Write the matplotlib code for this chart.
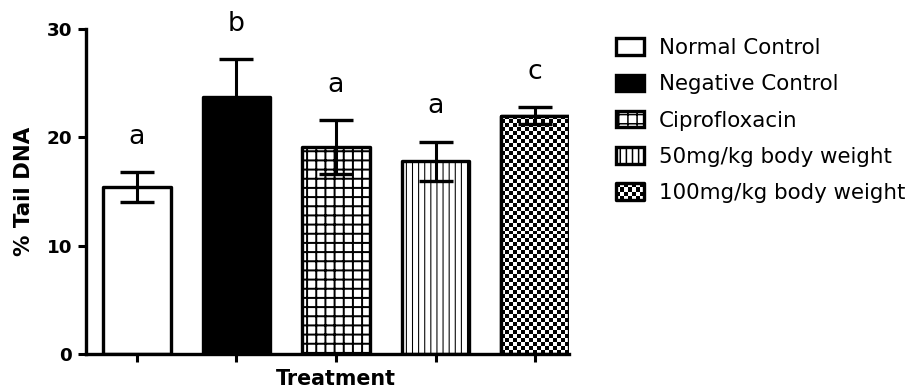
import numpy as np
import matplotlib
matplotlib.use('Agg')
import matplotlib.pyplot as plt
from matplotlib.patches import Rectangle, Patch
from matplotlib.legend_handler import HandlerBase

# Comet assay: % tail DNA per treatment group (mean +/- SEM)
groups = ['Normal Control', 'Negative Control', 'Ciprofloxacin',
          '50mg/kg body weight', '100mg/kg body weight']
means = [15.4, 23.7, 19.1, 17.8, 22.0]
sems = [1.4, 3.5, 2.5, 1.8, 0.8]
letters = ['a', 'b', 'a', 'a', 'c']

DPI = 110
LW = 2.2          # outline width, points
CELL = 4          # checker cell size, pixels

fills = [dict(facecolor='white', hatch=None),
         dict(facecolor='black', hatch=None),
         dict(facecolor='white', hatch='++'),
         dict(facecolor='white', hatch='|||'),
         dict(facecolor='white', hatch=None)]
hatch_lw = [None, None, 1.3, 0.7, None]


class HandlerChecker(HandlerBase):
    """Legend key drawn as a small black/white checkerboard."""

    def create_artists(self, legend, orig_handle, xdescent, ydescent,
                       width, height, fontsize, trans):
        x0, y0 = -xdescent, -ydescent
        cell = CELL * 72 / DPI
        arts = [Rectangle((x0, y0), width, height, facecolor='white',
                          edgecolor='none', transform=trans)]
        ncol = max(1, int(round(width / cell)))
        nrow = max(1, int(round(height / cell)))
        cw, ch = width / ncol, height / nrow
        for r in range(nrow):
            for c in range(ncol):
                if (r + c) % 2:
                    arts.append(Rectangle((x0 + c * cw, y0 + r * ch), cw, ch,
                                          facecolor='black', edgecolor='none',
                                          transform=trans))
        arts.append(Rectangle((x0, y0), width, height, facecolor='none',
                              edgecolor='black', lw=LW, joinstyle='round',
                              transform=trans))
        return arts


plt.rcParams['font.family'] = ['DejaVu Sans']

fig = plt.figure(figsize=(919 / DPI, 392 / DPI), dpi=DPI)
ax = fig.add_axes([86 / 919, 38 / 392, (569 - 86) / 919, (354 - 29) / 392])

x = np.arange(len(groups))
width = 0.68

bars = []
for i in range(len(groups)):
    b = ax.bar(x[i], means[i], width, color=fills[i]['facecolor'],
               hatch=fills[i]['hatch'], edgecolor='black', linewidth=LW,
               zorder=2)[0]
    b.set_joinstyle('round')
    if hatch_lw[i] is not None and hasattr(b, 'set_hatch_linewidth'):
        b.set_hatch_linewidth(hatch_lw[i])
    bars.append(b)

ax.set_xlim(-0.51, 4.34)
ax.set_ylim(0, 30)

# checkerboard fill for the last group, clipped to its bar
fig.canvas.draw()
cb = bars[4]
x0, x1 = x[4] - width / 2, x[4] + width / 2
p0 = ax.transData.transform((x0, 0))
p1 = ax.transData.transform((x1, means[4]))
ncol = int(round((p1[0] - p0[0]) / CELL))
nrow = int(round((p1[1] - p0[1]) / CELL))
board = np.indices((nrow, ncol)).sum(axis=0) % 2
ax.imshow(board, cmap='binary', extent=(x0, x1, 0, means[4]), aspect='auto',
          interpolation='nearest', zorder=2.5, clip_path=cb)
ax.bar(x[4], means[4], width, facecolor='none', edgecolor='black',
       linewidth=LW, zorder=3).patches[0].set_joinstyle('round')
ax.set_xlim(-0.51, 4.34)
ax.set_ylim(0, 30)

ax.errorbar(x, means, yerr=sems, fmt='none', ecolor='black', elinewidth=2.0,
            capsize=11, capthick=2.2, zorder=4)

for i, t in enumerate(letters):
    ax.text(x[i], means[i] + sems[i] + 2.6, t, ha='center', va='baseline',
            fontsize=17.5)

for side in ['top', 'right']:
    ax.spines[side].set_visible(False)
for side in ['left', 'bottom']:
    ax.spines[side].set_linewidth(2.2)
    ax.spines[side].set_capstyle('projecting')

ax.set_yticks([0, 10, 20, 30])
ax.set_xticks(x)
ax.set_xticklabels([])
ax.tick_params(axis='y', length=5.5, width=2, pad=3.5, labelsize=12)
ax.tick_params(axis='x', length=5, width=2)
for lab in ax.get_yticklabels():
    lab.set_fontweight('bold')

ax.set_ylabel('% Tail DNA', fontsize=14, fontweight='bold', labelpad=8)
ax.set_xlabel('Treatment', fontsize=13.5, fontweight='bold')
ax.xaxis.set_label_coords(0.518, -0.045)

handles = []
handler_map = {}
for i in range(len(groups)):
    h = Patch(facecolor=fills[i]['facecolor'], edgecolor='black', linewidth=LW,
              hatch=fills[i]['hatch'], joinstyle='round')
    if hatch_lw[i] is not None and hasattr(h, 'set_hatch_linewidth'):
        h.set_hatch_linewidth(hatch_lw[i])
    handles.append(h)
handler_map[handles[4]] = HandlerChecker()

fig.legend(handles, groups, loc='upper left',
           bbox_to_anchor=(616 / 919, (392 - 38) / 392),
           bbox_transform=fig.transFigure, frameon=False, fontsize=14,
           handlelength=1.3, handleheight=0.8, handletextpad=0.7,
           labelspacing=0.76, borderpad=0, borderaxespad=0,
           handler_map=handler_map)

fig.savefig('out.png', dpi=DPI)
